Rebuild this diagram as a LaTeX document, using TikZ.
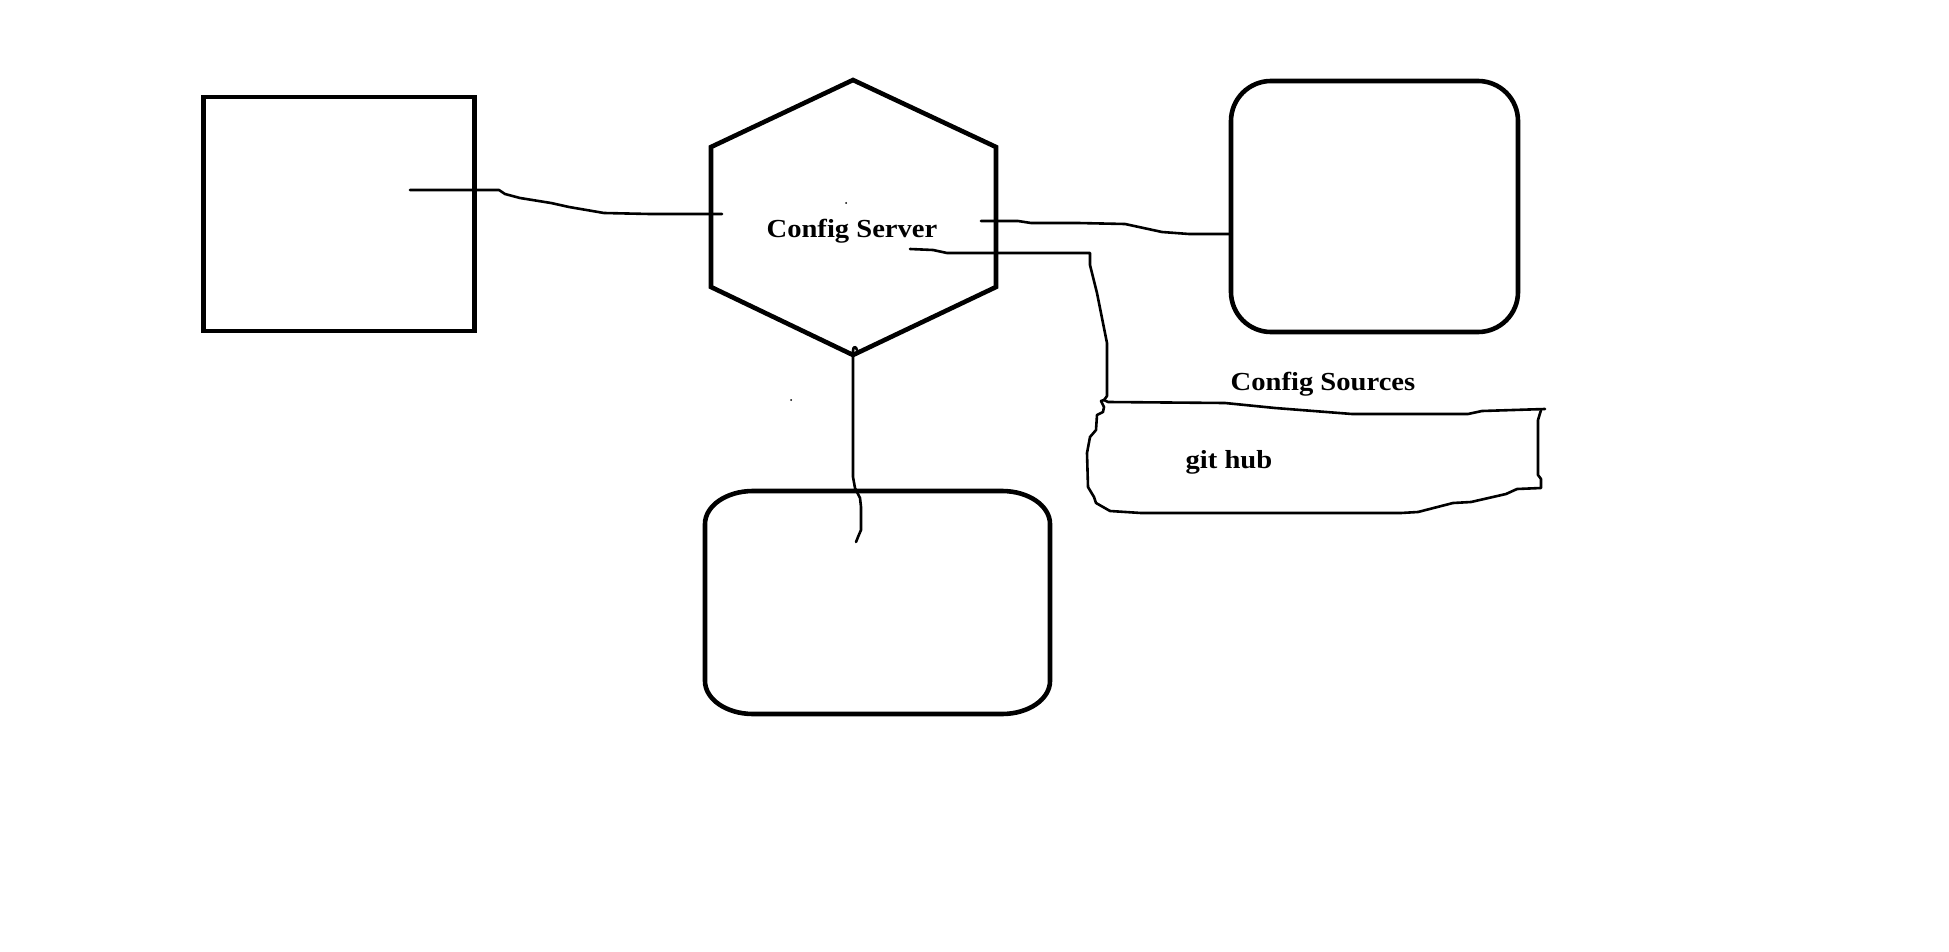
\documentclass[tikz,border=0pt]{standalone}
\usepackage{fontspec}
\setmainfont{Liberation Serif}
\newfontfamily\lblfont[FakeStretch=1.1]{Liberation Serif}
\begin{document}
\begin{tikzpicture}[x=1pt,y=-1pt, line cap=round,
  shapeline/.style={line width=4.6pt},
  wire/.style={line width=2.6pt, line join=round},
  lbl/.style={font=\lblfont\fontsize{26pt}{30pt}\selectfont\bfseries, inner sep=0pt, anchor=base}]
\useasboundingbox (0,0) rectangle (1949,952);
\fill[white] (0,0) rectangle (1949,952);

% left box
\node[draw, shapeline, line join=miter, line cap=butt, minimum width=271pt, minimum height=234pt, inner sep=0pt] (client1) at (339,214) {};

% hexagon (config server)
\draw[shapeline, line join=miter] (853,80) -- (996,147) -- (996,287) -- (853,355) -- (711,287) -- (711,147) -- cycle;
\node[lbl] (server) at (852,237) {Config Server};

% right rounded box
\node[draw, shapeline, rounded corners=40pt, minimum width=287pt, minimum height=251pt, inner sep=0pt] (client2) at (1374.5,206.5) {};

% bottom rounded box (elliptic corners)
\node[minimum width=345pt, minimum height=223pt, inner sep=0pt] (client3) at (877.5,602.5) {};
\draw[shapeline] (753,491) -- (1002,491)
  arc[start angle=-90, end angle=0, x radius=48, y radius=33] -- (1050,681)
  arc[start angle=0, end angle=90, x radius=48, y radius=33] -- (753,714)
  arc[start angle=90, end angle=180, x radius=48, y radius=33] -- (705,524)
  arc[start angle=180, end angle=270, x radius=48, y radius=33] -- cycle;

% hand-drawn git hub box
\coordinate (gitcorner) at (1104,400);
\draw[wire] (gitcorner) -- (1108,402) -- (1225,403) -- (1275,408) -- (1352,414) -- (1468,414) -- (1482,411) -- (1545,409);
\draw[wire] (1541,410) -- (1538,420) -- (1538,475) -- (1541,479) -- (1541,488) -- (1517,489) -- (1506,494) -- (1471,502) -- (1453,503) -- (1418,512) -- (1401,513) -- (1141,513) -- (1110,511) -- (1096,503) -- (1094,497) -- (1088,487) -- (1087,453) -- (1090,437) -- (1096,430) -- (1097,415) -- (1103,412) -- (1104,407) -- (1101,401) -- (gitcorner);
\node[lbl] (sources) at (1323,390) {Config Sources};
\node[lbl] (github) at (1229,468) {git hub};

% connectors
\coordinate (c1in) at (410,190);
\coordinate (hexL) at (722,214);
\draw[wire] (c1in) -- (499,190) -- (505,194) -- (520,198) -- (551,203) -- (569,207) -- (604,213) -- (650,214) -- (hexL);

\coordinate (hexR) at (981,221);
\coordinate (c2in) at (1231,234);
\draw[wire] (hexR) -- (1018,221) -- (1031,223) -- (1078,223) -- (1125,224) -- (1162,232) -- (1189,234) -- (c2in);

\coordinate (hexB) at (853,351);
\coordinate (c3in) at (856,542);
\draw[wire] (857,350) .. controls (856,346) and (853,346) .. (hexB) -- (853,477) -- (855,488) -- (860,498) -- (861,507) -- (861,530) -- (858,537) -- (c3in);

\coordinate (gitstart) at (910,249);
\draw[wire] (gitstart) -- (933,250) -- (947,253) -- (1090,253) -- (1090,265) -- (1097,293) -- (1107,343) -- (1107,396) -- (gitcorner);

% stray specks
\fill (846,203) circle[radius=1];
\fill (791,400) circle[radius=1];
\end{tikzpicture}
\end{document}
